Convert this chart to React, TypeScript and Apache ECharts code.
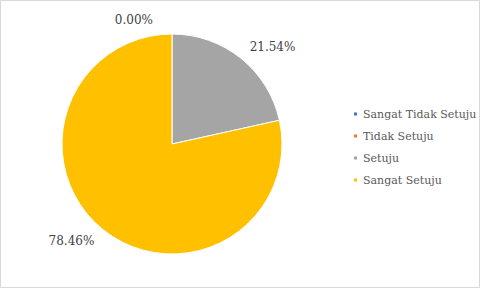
import React, { useEffect, useRef } from "react";
import * as echarts from "echarts";

const categories = ["Sangat Tidak Setuju", "Tidak Setuju", "Setuju", "Sangat Setuju"];
const values = [0, 0, 21.54, 78.46];
const colors = ["#4472C4", "#ED7D31", "#A5A5A5", "#FFC000"];

export default function App() {
  const ref = useRef<HTMLDivElement>(null);
  useEffect(() => {
    document.body.style.margin = "0";
    const chart = echarts.init(ref.current!, null, { renderer: "svg" });
    const font = "DejaVu Serif";
    chart.setOption({
      animation: false,
      backgroundColor: "#ffffff",
      textStyle: { fontFamily: font },
      graphic: [
        {
          type: "rect",
          shape: { x: 0.5, y: 0.5, width: 479, height: 287 },
          style: { fill: "none", stroke: "#d9d9d9", lineWidth: 1 },
          silent: true,
        },
      ],
      legend: {
        orient: "vertical",
        left: 347,
        top: 101,
        itemWidth: 5,
        itemHeight: 5,
        itemGap: 6,
        itemTextGap: 5,
        icon: "rect",
        data: categories,
        textStyle: { fontFamily: font, fontSize: 11, color: "#595959", lineHeight: 16 },
      },
      series: [
        {
          type: "pie",
          center: [172, 144],
          radius: 110,
          startAngle: 90,
          clockwise: true,
          avoidLabelOverlap: false,
          stillShowZeroSum: true,
          itemStyle: { borderColor: "#ffffff", borderWidth: 1 },
          label: {
            show: true,
            position: "outside",
            fontFamily: font,
            fontSize: 12,
            color: "#404040",
            distanceToLabelLine: 0,
            formatter: (p: any) => p.value.toFixed(2) + "%",
          },
          labelLine: { show: false, length: 14, length2: 0 },
          labelLayout: (p: any) =>
            p.dataIndex < 2 ? { dx: -p.labelRect.width / 2 } : {},
          data: categories.map((c, i) => ({
            name: c,
            value: values[i],
            itemStyle: { color: colors[i] },
            label: i === 0 ? { show: false } : undefined,
          })),
        },
      ],
    });
    return () => chart.dispose();
  }, []);
  return <div ref={ref} style={{ width: 480, height: 288 }} />;
}
